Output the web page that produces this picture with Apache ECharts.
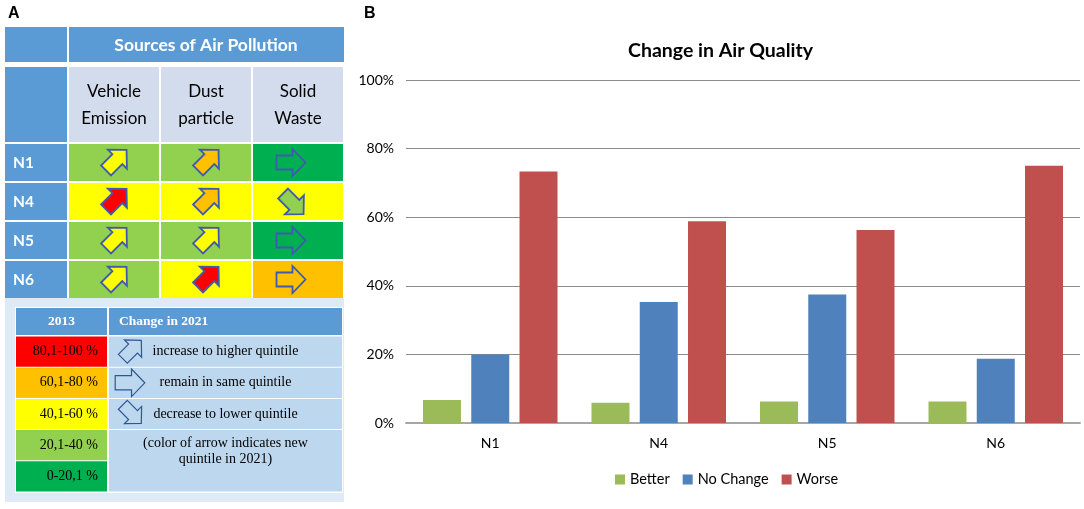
<!DOCTYPE html>
<html><head><meta charset="utf-8">
<script src="https://cdn.jsdelivr.net/npm/echarts@6/dist/echarts.min.js"></script>
<style>html,body{margin:0;padding:0;background:#fff}#c{width:1084px;height:509px}</style>
</head><body><div id="c"></div><script>
// ---- Panel B data ----
const stations = ['N1', 'N4', 'N5', 'N6'];
const betterPct = [6.7, 5.9, 6.25, 6.25];
const noChangePct = [20.0, 35.3, 37.5, 18.75];
const worsePct = [73.3, 58.8, 56.25, 75.0];
const seriesNames = ['Better', 'No Change', 'Worse'];

// ---- Panel A data ----
const sources = ['Vehicle\nEmission', 'Dust\nparticle', 'Solid\nWaste'];
const tableRows = ['N1', 'N4', 'N5', 'N6'];
// quintile index: 0 = 0-20,1 %, ..., 4 = 80,1-100 %
const quintile2013 = [[1, 1, 0], [2, 2, 2], [1, 1, 0], [1, 2, 3]];
const quintile2021 = [[2, 3, 0], [4, 3, 1], [2, 2, 0], [2, 4, 3]];
const quintileLabels = ['0-20,1 %', '20,1-40 %', '40,1-60 %', '60,1-80 %', '80,1-100 %'];
const changeLabels = ['increase to higher quintile', 'remain in same quintile', 'decrease to lower quintile', '(color of arrow indicates new\nquintile in 2021)'];

const quintileColors = ['#00B050', '#92D050', '#FFFF00', '#FFC000', '#FF0000'];
const headBlue = '#5B9BD5';

function arrowPts(cx, cy, angleDeg, s) {
  const base = [[-14, -7], [2, -7], [2, -13.5], [15, 0], [2, 13.5], [2, 7], [-14, 7]];
  const a = angleDeg * Math.PI / 180;
  // shift so that the bounding box is centred on (cx, cy)
  const pts = base.map(([x, y]) => [s * (x * Math.cos(a) - y * Math.sin(a)), s * (x * Math.sin(a) + y * Math.cos(a))]);
  const xs = pts.map(p => p[0]), ys = pts.map(p => p[1]);
  const mx = (Math.min(...xs) + Math.max(...xs)) / 2, my = (Math.min(...ys) + Math.max(...ys)) / 2;
  return pts.map(([x, y]) => [cx + x - mx, cy + y - my]);
}

const tableData = [];
tableRows.forEach((r, ri) => sources.forEach((s, ci) => tableData.push([ci, ri, quintile2013[ri][ci], quintile2021[ri][ci]])));

function renderTable(params, api) {
  const c = api.value(0), r = api.value(1), q13 = api.value(2), q21 = api.value(3);
  const cs = params.coordSys;
  const p = api.coord([c, r]);
  const sz = api.size([1, 1]);
  const w = sz[0], h = sz[1];
  const x0 = p[0] - w / 2, y0 = p[1] - h / 2;
  const ch = [];
  if (c === 0 && r === 0) {
    ch.push({ type: 'rect', shape: { x: cs.x - 63, y: cs.y - 116, width: 62, height: 35 }, style: { fill: headBlue } });
    ch.push({ type: 'rect', shape: { x: cs.x + 1, y: cs.y - 116, width: cs.width - 1, height: 35 }, style: { fill: headBlue } });
    ch.push({ type: 'text', style: { text: 'Sources of Air Pollution', x: cs.x + cs.width / 2, y: cs.y - 98, align: 'center', verticalAlign: 'middle', fill: '#fff', fontFamily: 'Lato', fontWeight: 'bold', fontSize: 17.5 } });
    ch.push({ type: 'rect', shape: { x: cs.x - 63, y: cs.y - 76, width: 62, height: 75 }, style: { fill: headBlue } });
  }
  if (r === 0) {
    ch.push({ type: 'rect', shape: { x: x0 + 1, y: cs.y - 76, width: w - 2, height: 75 }, style: { fill: '#D2DCEC' } });
    ch.push({ type: 'text', style: { text: sources[c], x: p[0], y: cs.y - 38, align: 'center', verticalAlign: 'middle', fill: '#000', fontFamily: 'Lato', fontSize: 17, lineHeight: 27 } });
  }
  if (c === 0) {
    ch.push({ type: 'rect', shape: { x: cs.x - 63, y: y0 + 1, width: 62, height: h - 2 }, style: { fill: headBlue } });
    ch.push({ type: 'text', style: { text: tableRows[r], x: cs.x - 55, y: p[1], align: 'left', verticalAlign: 'middle', fill: '#fff', fontFamily: 'Lato', fontWeight: 'bold', fontSize: 15.5 } });
  }
  ch.push({ type: 'rect', shape: { x: x0 + 1, y: y0 + 1, width: w - 2, height: h - 2 }, style: { fill: quintileColors[q13] } });
  const ang = q21 > q13 ? -45 : (q21 < q13 ? 45 : 0);
  ch.push({ type: 'polygon', shape: { points: arrowPts(p[0] + (c === 2 ? -7 : 0), p[1], ang, 1.0) }, style: { fill: quintileColors[q21], stroke: '#3F5BB0', lineWidth: 1.8 } });
  return { type: 'group', children: ch };
}

const keyData = [0, 1, 2, 3, 4].map(i => [0, i, 4 - i]);
function renderKey(params, api) {
  const r = api.value(1), q = api.value(2);
  const cs = params.coordSys;
  const p = api.coord([0, r]);
  const h = api.size([0, 1])[1];
  const y0 = p[1] - h / 2;
  const leftW = 91, gap = 2;
  const rx = cs.x + leftW + gap, rw = cs.width - leftW - gap;
  const ch = [];
  const serif = 'Liberation Serif';
  if (r === 0) {
    ch.push({ type: 'rect', shape: { x: cs.x - 11, y: cs.y - 38, width: 339, height: 204 }, style: { fill: '#DEEAF6' } });
    ch.push({ type: 'rect', shape: { x: cs.x - 1, y: cs.y - 29, width: cs.width + 2, height: cs.height + 30 }, style: { fill: '#fff' } });
    ch.push({ type: 'rect', shape: { x: cs.x, y: cs.y - 28, width: leftW, height: 27 }, style: { fill: headBlue } });
    ch.push({ type: 'rect', shape: { x: rx, y: cs.y - 28, width: rw, height: 27 }, style: { fill: headBlue } });
    ch.push({ type: 'text', style: { text: '2013', x: cs.x + leftW / 2, y: cs.y - 14, align: 'center', verticalAlign: 'middle', fill: '#fff', fontFamily: serif, fontWeight: 'bold', fontSize: 13.5 } });
    ch.push({ type: 'text', style: { text: 'Change in 2021', x: rx + 10, y: cs.y - 14, align: 'left', verticalAlign: 'middle', fill: '#fff', fontFamily: serif, fontWeight: 'bold', fontSize: 13.5 } });
  }
  ch.push({ type: 'rect', shape: { x: cs.x, y: y0 + 0.5, width: leftW, height: h - 1 }, style: { fill: quintileColors[q] } });
  ch.push({ type: 'text', style: { text: quintileLabels[q], x: cs.x + leftW - 9, y: p[1], align: 'right', verticalAlign: 'middle', fill: '#000', fontFamily: serif, fontSize: 14 } });
  if (r < 3) {
    ch.push({ type: 'rect', shape: { x: rx, y: y0 + 0.5, width: rw, height: h - 1 }, style: { fill: '#BDD7EE' } });
    const ang = r === 0 ? -45 : (r === 1 ? 0 : 45);
    const s = r === 1 ? 1.02 : 0.9;
    ch.push({ type: 'polygon', shape: { points: arrowPts(rx + 21, p[1] + (r === 2 ? -2 : 0), ang, s) }, style: { fill: '#BDD7EE', stroke: '#2F5597', lineWidth: 1.2 } });
    ch.push({ type: 'text', style: { text: changeLabels[r], x: rx + rw / 2, y: p[1], align: 'center', verticalAlign: 'middle', fill: '#000', fontFamily: serif, fontSize: 14 } });
  } else if (r === 3) {
    ch.push({ type: 'rect', shape: { x: rx, y: y0 + 0.5, width: rw, height: 2 * h - 1 }, style: { fill: '#BDD7EE' } });
    ch.push({ type: 'text', style: { text: changeLabels[3], x: rx + rw / 2, y: y0 + 6, align: 'center', verticalAlign: 'top', fill: '#000', fontFamily: serif, fontSize: 14, lineHeight: 16 } });
  }
  return { type: 'group', children: ch };
}

const chart = echarts.init(document.getElementById('c'), null, { renderer: 'canvas' });
const font = 'Lato';
chart.setOption({
  animation: false,
  backgroundColor: '#fff',
  title: [
    { text: 'A', left: 3, top: 1, textStyle: { fontFamily: 'Liberation Sans', fontWeight: 'bold', fontSize: 16, color: '#000' } },
    { text: 'B', left: 359, top: 1, textStyle: { fontFamily: 'Liberation Sans', fontWeight: 'bold', fontSize: 16, color: '#000' } },
    { text: 'Change in Air Quality', left: 623, top: 36, textStyle: { fontFamily: font, fontWeight: 'bold', fontSize: 19.5, color: '#000' } }
  ],
  legend: {
    data: seriesNames, left: 610, top: 467, icon: 'rect', itemWidth: 10, itemHeight: 10, itemGap: 13,
    textStyle: { fontFamily: font, fontSize: 14.5, color: '#000' }
  },
  grid: [
    { left: 406, right: 4, top: 80, bottom: 86 },
    { left: 68, top: 143, width: 276, height: 156 },
    { left: 16, top: 336, width: 326, height: 156 }
  ],
  xAxis: [
    { gridIndex: 0, type: 'category', data: stations, axisTick: { show: false },
      axisLine: { lineStyle: { color: '#A6A6A6', width: 2 } },
      axisLabel: { fontFamily: font, fontSize: 14, color: '#000', margin: 13 } },
    { gridIndex: 1, type: 'category', data: sources, show: false },
    { gridIndex: 2, type: 'category', data: ['2013'], show: false }
  ],
  yAxis: [
    { gridIndex: 0, type: 'value', min: 0, max: 100, interval: 20,
      axisLine: { show: false }, axisTick: { show: false },
      splitLine: { lineStyle: { color: '#8C8C8C', width: 1 } },
      axisLabel: { formatter: '{value}%', fontFamily: font, fontSize: 14, color: '#000', margin: 12 } },
    { gridIndex: 1, type: 'category', data: tableRows, inverse: true, show: false },
    { gridIndex: 2, type: 'category', data: quintileLabels.slice().reverse(), inverse: true, show: false }
  ],
  series: [
    { name: 'Better', type: 'bar', data: betterPct, itemStyle: { color: '#9BBB59' }, barWidth: 38, barGap: '27%' },
    { name: 'No Change', type: 'bar', data: noChangePct, itemStyle: { color: '#4F81BD' }, barWidth: 38, barGap: '27%' },
    { name: 'Worse', type: 'bar', data: worsePct, itemStyle: { color: '#C0504D' }, barWidth: 38, barGap: '27%' },
    { type: 'custom', xAxisIndex: 2, yAxisIndex: 2, data: keyData, renderItem: renderKey, clip: false, z: 1, silent: true },
    { type: 'custom', xAxisIndex: 1, yAxisIndex: 1, data: tableData, renderItem: renderTable, clip: false, z: 2, silent: true }
  ]
});
</script></body></html>
